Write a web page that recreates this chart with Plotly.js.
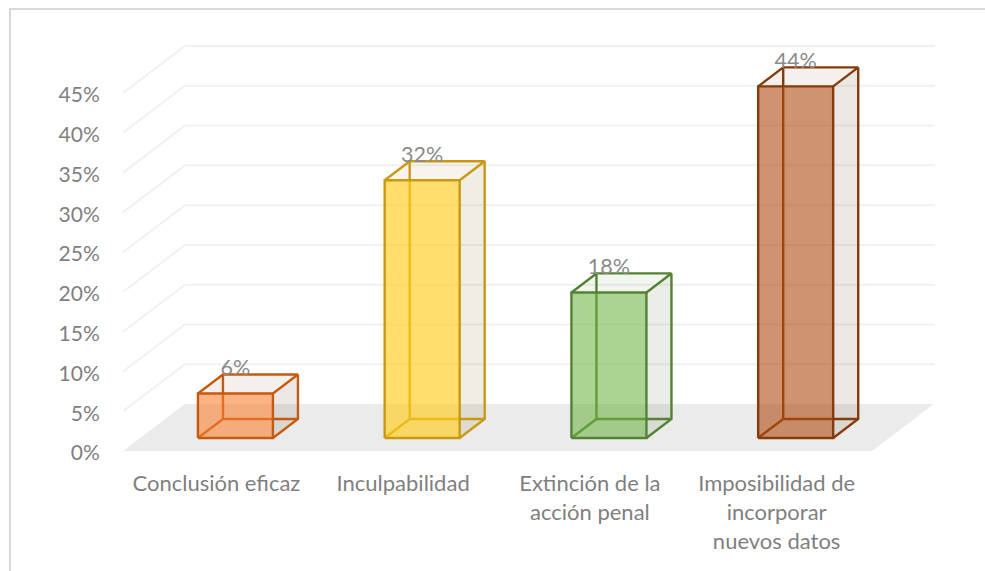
<!DOCTYPE html>
<html>
<head>
<meta charset="utf-8">
<script src="https://cdn.plot.ly/plotly-3.0.1.min.js"></script>
<style>html,body{margin:0;padding:0;background:#fff;overflow:hidden}</style>
</head>
<body>
<div id="chart" style="width:985px;height:571px"></div>
<script>
const categories = ["Conclusión eficaz", "Inculpabilidad", "Extinción de la<br>acción penal", "Imposibilidad de<br>incorporar<br>nuevos datos"];
const values = [5.6, 32.4, 18.3, 44.2];
const yTicks = [0, 5, 10, 15, 20, 25, 30, 35, 40, 45];
const yTickLabels = ["0%", "5%", "10%", "15%", "20%", "25%", "30%", "35%", "40%", "45%"];
const strokeColors = ["#c55a11", "#c79a12", "#548235", "#843c0c"];
const frontColors = ["rgba(250,125,45,0.58)", "rgba(255,205,30,0.66)", "rgba(105,178,60,0.56)", "rgba(175,75,15,0.60)"];
const topColors = ["rgba(170,110,70,0.10)", "rgba(170,130,50,0.09)", "rgba(120,140,80,0.09)", "rgba(120,90,50,0.09)"];
const sideColors = ["rgba(110,75,40,0.13)", "rgba(130,110,40,0.12)", "rgba(90,110,60,0.12)", "rgba(100,65,30,0.12)"];

const FONT = "Lato, Carlito, sans-serif";
const TEXT = "#7f7f7f";
// oblique depth of the chart box and of each bar, in axis units
const boxDX = 0.332, boxDY = 5.908;
const barW = 0.4016, barDX = 0.134, barDY = 2.39;
const barOffsetX = 0.102, barBaseY = 1.634;
const xMin = -0.5, xEnd = 3.51, xMax = 3.848, yMax = 51.04;
const labelLift = 3.0;
const EDGE = 2.4;

const traces = [];
function poly(xs, ys, fill, line, width) {
  traces.push({
    type: "scatter", x: xs, y: ys, mode: "lines", hoverinfo: "skip", showlegend: false,
    fill: fill ? "toself" : "none", fillcolor: fill || "rgba(0,0,0,0)",
    line: {color: line || "rgba(0,0,0,0)", width: line ? width : 0}
  });
}
// floor
poly([xMin, xEnd, xEnd + boxDX, xMin + boxDX, xMin], [0, 0, boxDY, boxDY, 0], "#ebebeb");
// walls' gridlines
yTicks.filter(v => v > 0).forEach(v => {
  poly([xMin, xMin + boxDX, xEnd + boxDX + 0.005], [v, v + boxDY, v + boxDY], null, "#f1f1f1", 2);
});
// bars
values.forEach((v, i) => {
  const x0 = i + barOffsetX - barW / 2, x1 = x0 + barW;
  const y0 = barBaseY, y1 = barBaseY + v;
  const bx0 = x0 + barDX, bx1 = x1 + barDX, by0 = y0 + barDY, by1 = y1 + barDY;
  const c = strokeColors[i];
  poly([x1, bx1, bx1, x1, x1], [y0, by0, by1, y1, y0], sideColors[i], null);
  poly([x0, x1, bx1, bx0, x0], [y1, y1, by1, by1, y1], topColors[i], null);
  // hidden edges seen through the bar
  poly([x0, bx0, bx1], [y0, by0, by0], null, c, EDGE);
  poly([bx0, bx0], [by0, by1], null, c, EDGE);
  // visible edges
  poly([x0, bx0, bx1, x1], [y1, by1, by1, y1], null, c, EDGE);
  poly([bx1, bx1, x1], [by1, by0, y0], null, c, EDGE);
  poly([x0, x1, x1, x0, x0], [y0, y0, y1, y1, y0], frontColors[i], c, EDGE);
});
// data labels
traces.push({
  type: "scatter", mode: "text", hoverinfo: "skip", showlegend: false,
  x: values.map((v, i) => i + barOffsetX),
  y: values.map(v => barBaseY + v + labelLift),
  text: values.map(v => Math.round(v) + "%"),
  textposition: "middle center",
  textfont: {family: FONT, size: 21.5, color: "#8a8a8a"},
  cliponaxis: false
});

const L = 123, R = 50, T = 45, B = 120, W = 985, H = 571;
const pw = W - L - R, ph = H - T - B;
const layout = {
  width: W, height: H,
  margin: {l: L, r: R, t: T, b: B, pad: 0},
  paper_bgcolor: "#fff", plot_bgcolor: "#fff",
  showlegend: false,
  font: {family: FONT, size: 21, color: TEXT},
  xaxis: {
    range: [xMin, xMax], tickmode: "array", tickvals: categories.map((c, i) => i), ticktext: categories,
    showgrid: false, zeroline: false, showline: false, ticks: "outside", ticklen: 13, tickcolor: "rgba(0,0,0,0)",
    tickangle: 0, tickfont: {family: FONT, size: 22, color: TEXT}
  },
  yaxis: {
    range: [0, yMax], tickmode: "array", tickvals: yTicks, ticktext: yTickLabels, ticklabelshift: 2,
    showgrid: false, zeroline: false, showline: false, ticks: "outside", ticklen: 18, tickcolor: "rgba(0,0,0,0)",
    tickfont: {family: FONT, size: 21, color: TEXT}
  },
  shapes: [{
    type: "path", xref: "paper", yref: "paper", layer: "below",
    path: `M ${(10 - L) / pw} ${(H - B - 575) / ph} L ${(10 - L) / pw} ${(H - B - 9) / ph} L ${(990 - L) / pw} ${(H - B - 9) / ph}`,
    line: {color: "#d9d9d9", width: 2}
  }]
};
Plotly.newPlot("chart", traces, layout, {displayModeBar: false, staticPlot: true});
</script>
</body>
</html>
